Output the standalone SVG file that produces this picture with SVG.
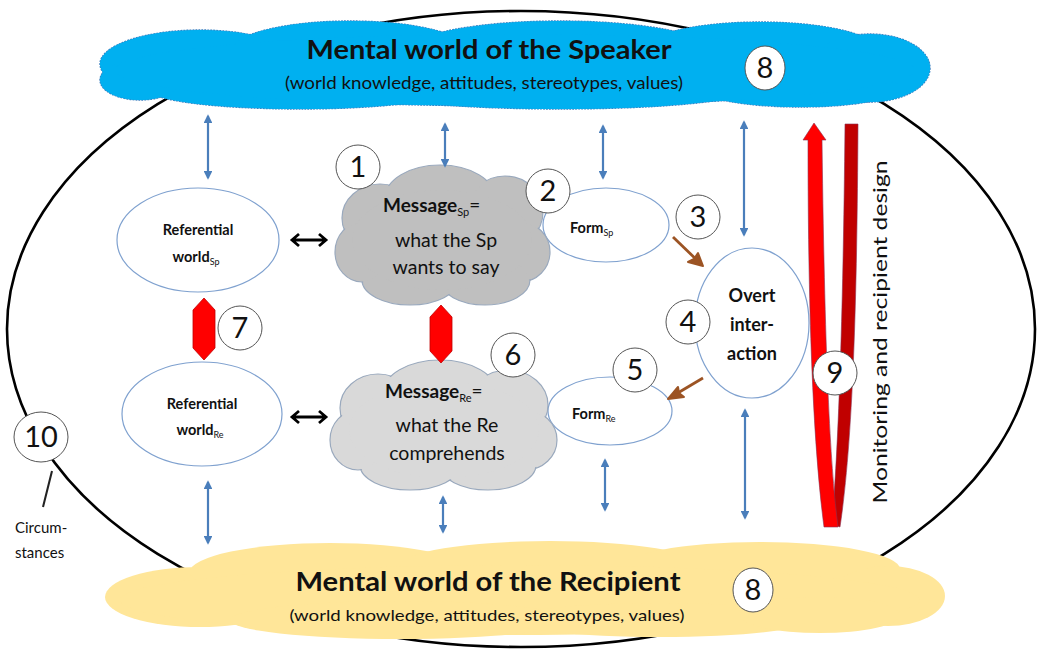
<svg xmlns="http://www.w3.org/2000/svg" width="1039" height="652" viewBox="0 0 1039 652">
<defs>
<style>
.t{font-family:Lato,"Open Sans","Liberation Sans",sans-serif;fill:#111}
.b{font-weight:bold}
.num{font-family:Lato,"Open Sans","Liberation Sans",sans-serif;font-size:29px;fill:#111;text-anchor:middle}
.circ{fill:#fff;stroke:#555;stroke-width:1}
.ell{fill:#fff;stroke:#7FA1CF;stroke-width:1.2}
.blue{stroke:#4A7EBB;stroke-width:2.2;fill:none;marker-start:url(#bh);marker-end:url(#bh)}
.blk{stroke:#000;stroke-width:2.8;fill:none}
.brn{stroke:#9C5424;stroke-width:2.8;fill:none}
.redblk{fill:#FF0000;stroke:#C00000;stroke-width:0.8}
</style>
<marker id="bh" viewBox="0 0 10 10" refX="8" refY="5" markerWidth="4" markerHeight="4" orient="auto-start-reverse" markerUnits="strokeWidth">
<path d="M0,0 L10,5 L0,10 z" fill="#4A7EBB"/>
</marker>
</defs>
<rect width="1039" height="652" fill="#fff"/>

<g id="context-ellipse">
<ellipse cx="521" cy="329" rx="514" ry="318" fill="none" stroke="#000" stroke-width="2.6"/>
</g>

<g id="speaker-world">
<g fill="#00B0F0" stroke="#3A7FC0" stroke-width="1.4" stroke-dasharray="2 1">
<ellipse cx="200" cy="64" rx="100" ry="34"/>
<ellipse cx="350" cy="52" rx="120" ry="31"/>
<ellipse cx="560" cy="50" rx="150" ry="29"/>
<ellipse cx="760" cy="52" rx="120" ry="30"/>
<ellipse cx="870" cy="68" rx="60" ry="34"/>
<ellipse cx="300" cy="90" rx="150" ry="19"/>
<ellipse cx="560" cy="92" rx="180" ry="17"/>
<ellipse cx="800" cy="88" rx="100" ry="19"/>
<ellipse cx="140" cy="80" rx="40" ry="20"/>
<ellipse cx="515" cy="70" rx="400" ry="36"/>
</g>
<g fill="#00B0F0">
<ellipse cx="200" cy="64" rx="100" ry="34"/>
<ellipse cx="350" cy="52" rx="120" ry="31"/>
<ellipse cx="560" cy="50" rx="150" ry="29"/>
<ellipse cx="760" cy="52" rx="120" ry="30"/>
<ellipse cx="870" cy="68" rx="60" ry="34"/>
<ellipse cx="300" cy="90" rx="150" ry="19"/>
<ellipse cx="560" cy="92" rx="180" ry="17"/>
<ellipse cx="800" cy="88" rx="100" ry="19"/>
<ellipse cx="140" cy="80" rx="40" ry="20"/>
<ellipse cx="515" cy="70" rx="400" ry="36"/>
</g>
<text class="t b" x="489" y="59" font-size="26" text-anchor="middle" textLength="365" lengthAdjust="spacingAndGlyphs">Mental world of the Speaker</text>
<text class="t" x="484" y="89" font-size="17" text-anchor="middle" textLength="398" lengthAdjust="spacingAndGlyphs">(world knowledge, attitudes, stereotypes, values)</text>
<ellipse class="circ" cx="765" cy="68" rx="20" ry="22"/>
<text class="num" x="765" y="78">8</text>
</g>

<g id="recipient-world">
<g fill="#FFE699">
<ellipse cx="200" cy="597" rx="95" ry="30"/>
<ellipse cx="330" cy="572" rx="140" ry="29"/>
<ellipse cx="550" cy="566" rx="150" ry="25"/>
<ellipse cx="760" cy="569" rx="140" ry="27"/>
<ellipse cx="888" cy="596" rx="57" ry="30"/>
<ellipse cx="520" cy="600" rx="400" ry="35"/>
<ellipse cx="400" cy="620" rx="170" ry="19"/>
<ellipse cx="660" cy="620" rx="150" ry="17"/>
<ellipse cx="820" cy="615" rx="80" ry="18"/>
</g>
<text class="t b" x="488" y="591" font-size="26" text-anchor="middle" textLength="385" lengthAdjust="spacingAndGlyphs">Mental world of the Recipient</text>
<text class="t" x="487" y="621" font-size="16" text-anchor="middle" textLength="395" lengthAdjust="spacingAndGlyphs">(world knowledge, attitudes, stereotypes, values)</text>
<ellipse class="circ" cx="753" cy="590" rx="20" ry="22"/>
<text class="num" x="753" y="600">8</text>
</g>

<g id="ref-world-sp">
<ellipse class="ell" cx="198" cy="240" rx="81" ry="52"/>
<text class="t b" x="198" y="235" font-size="14.5" text-anchor="middle">Referential</text>
<text class="t b" x="196" y="262" font-size="14.5" text-anchor="middle">world<tspan font-size="9" font-weight="normal" dy="3">Sp</tspan></text>
</g>

<g id="ref-world-re">
<ellipse class="ell" cx="202" cy="414" rx="80" ry="52"/>
<text class="t b" x="202" y="409" font-size="14.5" text-anchor="middle">Referential</text>
<text class="t b" x="200" y="435" font-size="14.5" text-anchor="middle">world<tspan font-size="9" font-weight="normal" dy="3">Re</tspan></text>
</g>

<g id="form-sp">
<ellipse class="ell" cx="606" cy="225" rx="63" ry="37"/>
<text class="t b" x="570" y="233" font-size="14.5">Form<tspan font-size="9" font-weight="normal" dy="3">Sp</tspan></text>
</g>

<g id="form-re">
<ellipse class="ell" cx="610" cy="411" rx="62" ry="34"/>
<text class="t b" x="572" y="419" font-size="14.5">Form<tspan font-size="9" font-weight="normal" dy="3">Re</tspan></text>
</g>

<g id="message-sp">
<g fill="#BFBFBF" stroke="#9AA9BD" stroke-width="1.2">
<ellipse cx="380" cy="218" rx="38" ry="34"/>
<ellipse cx="440" cy="198" rx="55" ry="33"/>
<ellipse cx="505" cy="212" rx="38" ry="36"/>
<ellipse cx="520" cy="252" rx="30" ry="30"/>
<ellipse cx="485" cy="280" rx="45" ry="25"/>
<ellipse cx="410" cy="280" rx="48" ry="25"/>
<ellipse cx="362" cy="252" rx="27" ry="30"/>
</g>
<g fill="#BFBFBF">
<ellipse cx="380" cy="218" rx="37" ry="33"/>
<ellipse cx="440" cy="198" rx="54" ry="32"/>
<ellipse cx="505" cy="212" rx="37" ry="35"/>
<ellipse cx="520" cy="252" rx="29" ry="29"/>
<ellipse cx="485" cy="280" rx="44" ry="24"/>
<ellipse cx="410" cy="280" rx="47" ry="24"/>
<ellipse cx="362" cy="252" rx="26" ry="29"/>
<ellipse cx="442" cy="240" rx="90" ry="50"/>
</g>
<text class="t b" x="383" y="212" font-size="19">Message<tspan font-size="11" font-weight="normal" dy="4">Sp</tspan><tspan font-weight="normal" dy="-4">=</tspan></text>
<text class="t" x="446" y="247" font-size="19.5" text-anchor="middle">what the Sp</text>
<text class="t" x="446" y="274" font-size="19.5" text-anchor="middle">wants to say</text>
</g>

<g id="message-re">
<g fill="#D9D9D9" stroke="#9AA9BD" stroke-width="1.2">
<ellipse cx="378" cy="408" rx="38" ry="34"/>
<ellipse cx="440" cy="393" rx="57" ry="33"/>
<ellipse cx="508" cy="405" rx="40" ry="35"/>
<ellipse cx="525" cy="440" rx="32" ry="30"/>
<ellipse cx="488" cy="465" rx="48" ry="25"/>
<ellipse cx="410" cy="465" rx="50" ry="25"/>
<ellipse cx="358" cy="440" rx="28" ry="30"/>
</g>
<g fill="#D9D9D9">
<ellipse cx="378" cy="408" rx="37" ry="33"/>
<ellipse cx="440" cy="393" rx="56" ry="32"/>
<ellipse cx="508" cy="405" rx="39" ry="34"/>
<ellipse cx="525" cy="440" rx="31" ry="29"/>
<ellipse cx="488" cy="465" rx="47" ry="24"/>
<ellipse cx="410" cy="465" rx="49" ry="24"/>
<ellipse cx="358" cy="440" rx="27" ry="29"/>
<ellipse cx="444" cy="430" rx="95" ry="48"/>
</g>
<text class="t b" x="385" y="398" font-size="19">Message<tspan font-size="11" font-weight="normal" dy="4">Re</tspan><tspan font-weight="normal" dy="-4">=</tspan></text>
<text class="t" x="447" y="432" font-size="19.5" text-anchor="middle">what the Re</text>
<text class="t" x="447" y="460" font-size="19.5" text-anchor="middle">comprehends</text>
</g>

<g id="overt-interaction">
<ellipse class="ell" cx="752" cy="323" rx="57" ry="75"/>
<text class="t b" x="752" y="302" font-size="18" text-anchor="middle">Overt</text>
<text class="t b" x="752" y="331" font-size="18" text-anchor="middle">inter-</text>
<text class="t b" x="752" y="360" font-size="18" text-anchor="middle">action</text>
</g>

<g id="connectors">
<line class="blue" x1="208" y1="116" x2="208" y2="178"/>
<line class="blue" x1="445" y1="124" x2="445" y2="166"/>
<line class="blue" x1="603" y1="126" x2="603" y2="178"/>
<line class="blue" x1="744" y1="122" x2="744" y2="235"/>
<line class="blue" x1="208" y1="482" x2="208" y2="543"/>
<line class="blue" x1="443" y1="497" x2="443" y2="532"/>
<line class="blue" x1="605" y1="460" x2="605" y2="510"/>
<line class="blue" x1="745" y1="410" x2="745" y2="518"/>
<path class="blk" d="M292,240 L326,240 M299,234 L292,240 L299,246 M319,234 L326,240 L319,246"/>
<path class="blk" d="M292,417 L326,417 M299,411 L292,417 L299,423 M319,411 L326,417 L319,423"/>
<path class="brn" d="M673,237 L701,264"/>
<path d="M703,266 L688,262 L694,259 L698,253 Z" fill="#9C5424" stroke="#9C5424" stroke-width="2" stroke-linejoin="round"/>
<path class="brn" d="M703,378 L671,397"/>
<path d="M668,399 L678,387 L679,393 L684,397 Z" fill="#9C5424" stroke="#9C5424" stroke-width="2" stroke-linejoin="round"/>
<polygon class="redblk" points="204,298 215,310 215,348 204,360 193,348 193,310"/>
<polygon class="redblk" points="441,305 452,317 452,351 441,363 430,351 430,317"/>
</g>

<g id="monitoring-loop">
<path d="M845,124 L858,124 C857,300 853,440 840,527 L832,524 C838,450 843,330 845,124 Z" fill="#C00000" stroke="#8A3050" stroke-width="0.6"/>
<path d="M803,140 L814,123 L826,140 L822,140 C825,380 831,470 838,527 L824,527 C814,450 808,330 808,140 Z" fill="#FF0000" stroke="#8A3050" stroke-width="0.6"/>
<text class="t" x="0" y="0" font-size="19" text-anchor="middle" fill="#222" transform="translate(887,332) rotate(-90)" textLength="343" lengthAdjust="spacingAndGlyphs">Monitoring and recipient design</text>
</g>

<g id="circumstances">
<line x1="52" y1="471" x2="43" y2="507" stroke="#222" stroke-width="2"/>
<ellipse class="circ" cx="41" cy="437" rx="27" ry="25"/>
<text class="num" x="41" y="447">10</text>
<text class="t" x="15" y="533" font-size="15" fill="#333">Circum-</text>
<text class="t" x="15" y="558" font-size="15" fill="#333">stances</text>
</g>

<g id="markers">
<circle class="circ" cx="358" cy="167" r="22"/><text class="num" x="358" y="177">1</text>
<circle class="circ" cx="548" cy="191" r="22"/><text class="num" x="548" y="201">2</text>
<circle class="circ" cx="698" cy="217" r="22"/><text class="num" x="698" y="227">3</text>
<circle class="circ" cx="688" cy="322" r="22"/><text class="num" x="688" y="332">4</text>
<circle class="circ" cx="635" cy="370" r="22"/><text class="num" x="635" y="380">5</text>
<circle class="circ" cx="513" cy="355" r="22"/><text class="num" x="513" y="365">6</text>
<circle class="circ" cx="240" cy="328" r="22"/><text class="num" x="240" y="338">7</text>
<circle class="circ" cx="835" cy="373" r="22"/><text class="num" x="835" y="383">9</text>
</g>
</svg>
